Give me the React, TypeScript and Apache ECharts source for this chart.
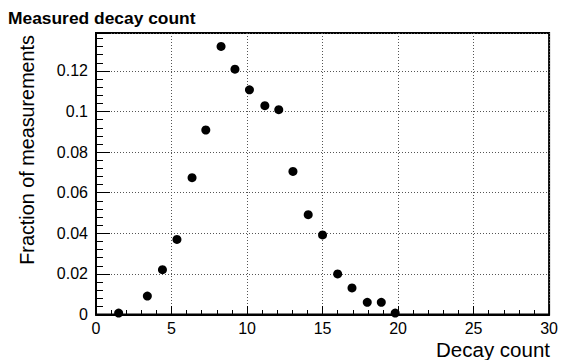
import React, { useEffect, useRef } from "react";
import * as echarts from "echarts";

const decayCounts = [1.5, 3.4, 4.4, 5.36, 6.36, 7.27, 8.28, 9.2, 10.16, 11.18, 12.1, 13.04, 14.05, 15.0, 16.0, 16.95, 17.96, 18.89, 19.81];
const fractions = [0.0007, 0.0091, 0.0221, 0.037, 0.0674, 0.0909, 0.1321, 0.1209, 0.1107, 0.1029, 0.1009, 0.0705, 0.0492, 0.0392, 0.02, 0.0131, 0.006, 0.006, 0.0007];

const chartTitle = "Measured decay count";
const xTitle = "Decay count";
const yTitle = "Fraction of measurements";

const FONT = "'Liberation Sans', Arial, Helvetica, sans-serif";

export default function App() {
  const ref = useRef<HTMLDivElement>(null);
  useEffect(() => {
    if (!ref.current) return;
    const chart = echarts.init(ref.current, null, { renderer: "svg" });
    const points = decayCounts.map((x, i) => [x, fractions[i]]);
    chart.setOption({
      animation: false,
      backgroundColor: "#fff",
      title: {
        text: chartTitle,
        left: 3,
        top: 4,
        textStyle: { fontFamily: FONT, fontWeight: "bold", fontSize: 17.4, color: "#000" },
      },
      grid: {
        left: 96,
        right: 10,
        top: 33,
        bottom: 45.5,
        show: true,
        borderColor: "#000",
        borderWidth: 2,
        backgroundColor: "transparent",
      },
      xAxis: {
        type: "value",
        min: 0,
        max: 30,
        interval: 5,
        axisLine: { show: true, onZero: false, lineStyle: { color: "#000", width: 2 } },
        axisTick: { show: true, inside: true, length: 8.5, lineStyle: { color: "#000", width: 1 } },
        minorTick: { show: true, splitNumber: 5, length: 4.5, lineStyle: { color: "#000", width: 1 } },
        axisLabel: { color: "#000", fontFamily: FONT, fontSize: 16, margin: 6 },
        splitLine: { show: true, lineStyle: { color: "#555", type: [1, 2], width: 1 } },
      },
      yAxis: {
        type: "value",
        min: 0,
        max: 0.1387,
        interval: 0.02,
        axisLine: { show: true, onZero: false, lineStyle: { color: "#000", width: 2 } },
        axisTick: { show: true, inside: true, length: 14, lineStyle: { color: "#000", width: 1 } },
        minorTick: { show: true, splitNumber: 5, length: 7, lineStyle: { color: "#000", width: 1 } },
        axisLabel: {
          color: "#000",
          fontFamily: FONT,
          fontSize: 16,
          margin: 8,
          showMaxLabel: false,
          formatter: (v: number) => String(Math.round(v * 100) / 100),
        },
        splitLine: { show: true, lineStyle: { color: "#555", type: [1, 2], width: 1 } },
      },
      graphic: [
        {
          type: "text",
          right: 11,
          top: 339,
          style: { text: xTitle, font: `20.5px ${FONT}`, fill: "#000" },
        },
        {
          type: "text",
          x: 17,
          y: 35,
          rotation: Math.PI / 2,
          style: {
            text: yTitle,
            font: `19.8px ${FONT}`,
            fill: "#000",
            align: "right",
            verticalAlign: "top",
          },
        },
      ],
      series: [
        {
          type: "scatter",
          data: points,
          symbol: "circle",
          symbolSize: 9,
          itemStyle: { color: "#000", opacity: 1 },
        },
      ],
    });
    return () => chart.dispose();
  }, []);
  return <div ref={ref} style={{ width: 561, height: 360, position: "absolute", left: 0, top: 0 }} />;
}
